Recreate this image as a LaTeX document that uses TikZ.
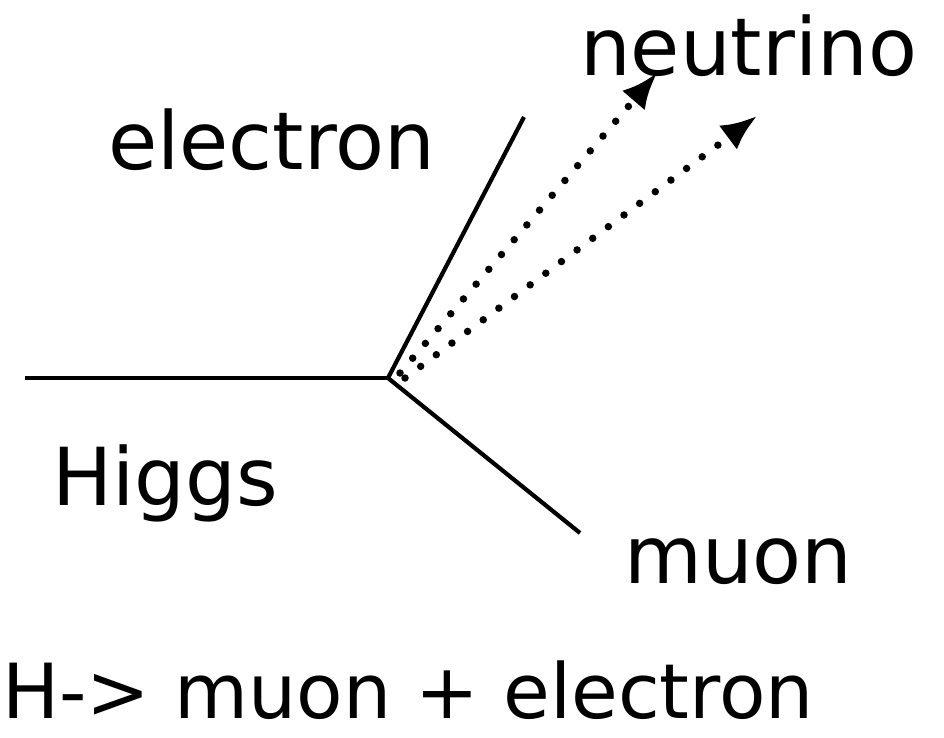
\documentclass[tikz,border=0pt]{standalone}
\usepackage{fontspec}
\setmainfont{DejaVu Sans}
\usetikzlibrary{arrows.meta}
\begin{document}
\begin{tikzpicture}[x=1pt,y=-1pt,
  lbl/.style={anchor=base west,inner sep=0pt,font=\fontsize{80}{96}\selectfont},
  solidline/.style={line width=4.2pt},
  dotline/.style={line width=7.5pt,line cap=round,dash pattern=on 0pt off 19.5pt,
    -{Latex[length=36pt 0 0,width=30pt 0 0]}}]
\useasboundingbox (0,0) rectangle (944,738);
\coordinate (v) at (388,378);
\coordinate (h) at (25,378);
\coordinate (e) at (524,117);
\coordinate (m) at (580,533);
\coordinate (d1s) at (400,373);
\coordinate (d1e) at (657,73);
\coordinate (d2s) at (405,378);
\coordinate (d2e) at (757,116);
\draw[solidline] (h) -- (v);
\draw[solidline] (v) -- (e);
\draw[solidline] (v) -- (m);
\draw[dotline] (d1s) -- (d1e);
\draw[dotline] (d2s) -- (d2e);
\node[lbl] (electron) at (108,170) {electron};
\node[lbl] (neutrino) at (580,76) {neutrino};
\node[lbl] (higgs) at (52,505) {Higgs};
\node[lbl] (muon) at (624,583) {muon};
\node[lbl,font=\fontsize{76}{90}\selectfont] (title) at (2,718) {H-> muon + electron};
\end{tikzpicture}
\end{document}
